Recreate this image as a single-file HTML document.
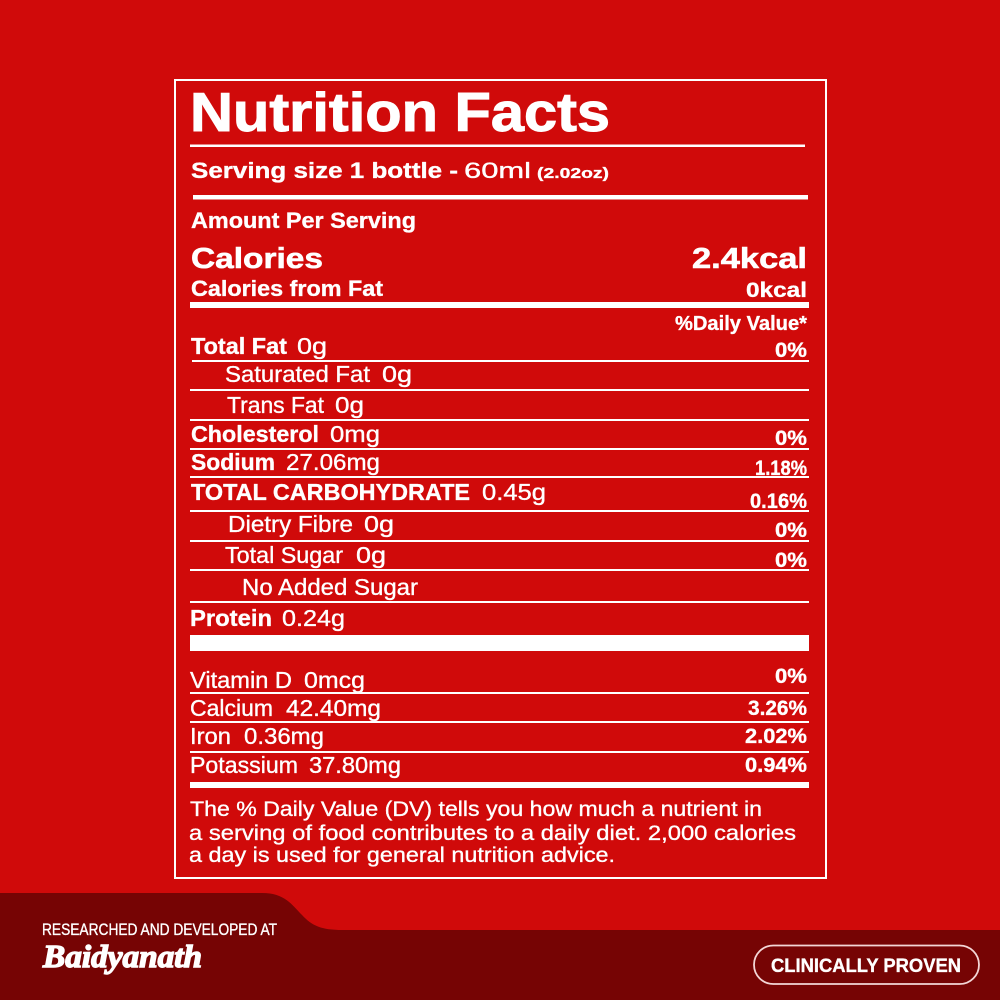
<!DOCTYPE html>
<html>
<head>
<meta charset="utf-8">
<style>
html,body{margin:0;padding:0;background:#d00a0a;}
svg{display:block;}
text{font-family:"Liberation Sans",Arial,sans-serif;fill:#fff;stroke:#fff;stroke-width:0.35;}
.b{font-weight:bold;}
</style>
</head>
<body>
<svg width="1000" height="1000" viewBox="0 0 1000 1000" xmlns="http://www.w3.org/2000/svg">
  <rect x="0" y="0" width="1000" height="1000" fill="#d00a0a"/>
  <!-- bottom dark band -->
  <path d="M0,893 L262,893 C285,893 292,905 302,915 C312,926 322,930 342,930 L1000,930 L1000,1000 L0,1000 Z" fill="#760404"/>

  <!-- box border -->
  <rect x="175" y="80" width="651" height="798" fill="none" stroke="#fff" stroke-width="2"/>

  <!-- title -->
  <text class="b" x="190" y="131" font-size="55" style="stroke-width:1" textLength="420" lengthAdjust="spacingAndGlyphs">Nutrition Facts</text>
  <rect x="190" y="144.5" width="615" height="2.5" fill="#fff"/>

  <!-- serving -->
  <text class="b" x="191" y="178" font-size="22" textLength="267" lengthAdjust="spacingAndGlyphs">Serving size 1 bottle -</text>
  <text x="464" y="178" font-size="22" textLength="67" lengthAdjust="spacingAndGlyphs">60ml</text>
  <text class="b" x="537" y="178" font-size="15" textLength="72" lengthAdjust="spacingAndGlyphs">(2.02oz)</text>
  <rect x="193" y="195" width="615" height="4.5" fill="#fff"/>

  <text class="b" x="191" y="228" font-size="22" textLength="225" lengthAdjust="spacingAndGlyphs">Amount Per Serving</text>
  <text class="b" x="191" y="268" font-size="29" style="stroke-width:0.6" textLength="132" lengthAdjust="spacingAndGlyphs">Calories</text>
  <text class="b" x="692" y="268" font-size="29" style="stroke-width:0.6" textLength="115" lengthAdjust="spacingAndGlyphs">2.4kcal</text>
  <text class="b" x="191" y="296" font-size="22" textLength="192" lengthAdjust="spacingAndGlyphs">Calories from Fat</text>
  <text class="b" x="746" y="297" font-size="21" textLength="61" lengthAdjust="spacingAndGlyphs">0kcal</text>
  <rect x="190" y="302" width="619" height="6" fill="#fff"/>

  <text class="b" x="675" y="330" font-size="20" textLength="132" lengthAdjust="spacingAndGlyphs">%Daily Value*</text>

  <!-- Total Fat -->
  <text class="b" x="191" y="354" font-size="23" textLength="96" lengthAdjust="spacingAndGlyphs">Total Fat</text>
  <text x="297" y="354" font-size="23" textLength="30" lengthAdjust="spacingAndGlyphs">0g</text>
  <text class="b" x="775" y="357" font-size="21" textLength="32" lengthAdjust="spacingAndGlyphs">0%</text>
  <rect x="192" y="360" width="617" height="2" fill="#fff"/>

  <text x="225" y="382" font-size="23" textLength="145" lengthAdjust="spacingAndGlyphs">Saturated Fat</text>
  <text x="382" y="382" font-size="23" textLength="30" lengthAdjust="spacingAndGlyphs">0g</text>
  <rect x="190" y="389" width="619" height="2" fill="#fff"/>

  <text x="227" y="413" font-size="23" textLength="97" lengthAdjust="spacingAndGlyphs">Trans Fat</text>
  <text x="335" y="413" font-size="23" textLength="29" lengthAdjust="spacingAndGlyphs">0g</text>
  <rect x="190" y="419" width="619" height="2" fill="#fff"/>

  <text class="b" x="191" y="442" font-size="23" textLength="128" lengthAdjust="spacingAndGlyphs">Cholesterol</text>
  <text x="330" y="442" font-size="23" textLength="50" lengthAdjust="spacingAndGlyphs">0mg</text>
  <text class="b" x="775" y="445" font-size="21" textLength="32" lengthAdjust="spacingAndGlyphs">0%</text>
  <rect x="190" y="448" width="619" height="2" fill="#fff"/>

  <text class="b" x="191" y="470" font-size="23" textLength="84" lengthAdjust="spacingAndGlyphs">Sodium</text>
  <text x="286" y="470" font-size="23" textLength="94" lengthAdjust="spacingAndGlyphs">27.06mg</text>
  <text class="b" x="755" y="475" font-size="21" textLength="52" lengthAdjust="spacingAndGlyphs">1.18%</text>
  <rect x="190" y="476" width="619" height="2" fill="#fff"/>

  <text class="b" x="191" y="500" font-size="23" textLength="279" lengthAdjust="spacingAndGlyphs">TOTAL CARBOHYDRATE</text>
  <text x="482" y="500" font-size="23" textLength="64" lengthAdjust="spacingAndGlyphs">0.45g</text>
  <text class="b" x="750" y="508" font-size="21" textLength="57" lengthAdjust="spacingAndGlyphs">0.16%</text>
  <rect x="190" y="510" width="619" height="2" fill="#fff"/>

  <text x="228" y="532" font-size="23" textLength="125" lengthAdjust="spacingAndGlyphs">Dietry Fibre</text>
  <text x="364" y="532" font-size="23" textLength="30" lengthAdjust="spacingAndGlyphs">0g</text>
  <text class="b" x="775" y="537" font-size="21" textLength="32" lengthAdjust="spacingAndGlyphs">0%</text>
  <rect x="190" y="540" width="619" height="2" fill="#fff"/>

  <text x="225" y="563" font-size="23" textLength="118" lengthAdjust="spacingAndGlyphs">Total Sugar</text>
  <text x="356" y="563" font-size="23" textLength="30" lengthAdjust="spacingAndGlyphs">0g</text>
  <text class="b" x="775" y="567" font-size="21" textLength="32" lengthAdjust="spacingAndGlyphs">0%</text>
  <rect x="190" y="569" width="619" height="2" fill="#fff"/>

  <text x="242" y="595" font-size="23" textLength="176" lengthAdjust="spacingAndGlyphs">No Added Sugar</text>
  <rect x="190" y="601" width="619" height="2" fill="#fff"/>

  <text class="b" x="190" y="626" font-size="23" textLength="82" lengthAdjust="spacingAndGlyphs">Protein</text>
  <text x="282" y="626" font-size="23" textLength="63" lengthAdjust="spacingAndGlyphs">0.24g</text>
  <rect x="190" y="635" width="619" height="16" fill="#fff"/>

  <!-- vitamins -->
  <text x="190" y="688" font-size="23" textLength="102" lengthAdjust="spacingAndGlyphs">Vitamin D</text>
  <text x="304" y="688" font-size="23" textLength="61" lengthAdjust="spacingAndGlyphs">0mcg</text>
  <text class="b" x="775" y="683" font-size="21" textLength="32" lengthAdjust="spacingAndGlyphs">0%</text>
  <rect x="190" y="692" width="619" height="2" fill="#fff"/>

  <text x="190" y="716" font-size="23" textLength="83" lengthAdjust="spacingAndGlyphs">Calcium</text>
  <text x="286" y="716" font-size="23" textLength="95" lengthAdjust="spacingAndGlyphs">42.40mg</text>
  <text class="b" x="748" y="715" font-size="21" textLength="59" lengthAdjust="spacingAndGlyphs">3.26%</text>
  <rect x="190" y="721" width="619" height="2" fill="#fff"/>

  <text x="190" y="744" font-size="23" textLength="41" lengthAdjust="spacingAndGlyphs">Iron</text>
  <text x="244" y="744" font-size="23" textLength="80" lengthAdjust="spacingAndGlyphs">0.36mg</text>
  <text class="b" x="745" y="743" font-size="21" textLength="62" lengthAdjust="spacingAndGlyphs">2.02%</text>
  <rect x="190" y="751" width="619" height="2" fill="#fff"/>

  <text x="190" y="773" font-size="23" textLength="108" lengthAdjust="spacingAndGlyphs">Potassium</text>
  <text x="309" y="773" font-size="23" textLength="92" lengthAdjust="spacingAndGlyphs">37.80mg</text>
  <text class="b" x="745" y="772" font-size="21" textLength="62" lengthAdjust="spacingAndGlyphs">0.94%</text>
  <rect x="190" y="782" width="619" height="6" fill="#fff"/>

  <!-- footnote -->
  <text x="190" y="816" font-size="21.5" textLength="572" lengthAdjust="spacingAndGlyphs">The % Daily Value (DV) tells you how much a nutrient in</text>
  <text x="189" y="840" font-size="21.5" textLength="607" lengthAdjust="spacingAndGlyphs">a serving of food contributes to a daily diet. 2,000 calories</text>
  <text x="189" y="862" font-size="21.5" textLength="426" lengthAdjust="spacingAndGlyphs">a day is used for general nutrition advice.</text>

  <!-- bottom left branding -->
  <text x="42" y="935" font-size="16.5" textLength="235" lengthAdjust="spacingAndGlyphs">RESEARCHED AND DEVELOPED AT</text>
  <text x="43" y="967" font-size="32" font-weight="bold" font-style="italic" style="font-family:'Liberation Serif','DejaVu Serif',serif;stroke-width:1.4" textLength="159" lengthAdjust="spacingAndGlyphs">Baidyanath</text>

  <!-- pill -->
  <rect x="754" y="945.5" width="225" height="38.5" rx="19.25" ry="19.25" fill="#760404" stroke="#f3d6d6" stroke-width="1.8"/>
  <text class="b" x="771" y="972" font-size="19.5" textLength="190" lengthAdjust="spacingAndGlyphs">CLINICALLY PROVEN</text>
</svg>
</body>
</html>
